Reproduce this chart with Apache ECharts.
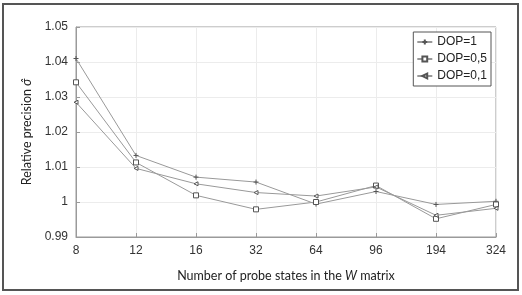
<!DOCTYPE html>
<html><head><meta charset="utf-8">
<script src="https://cdn.jsdelivr.net/npm/echarts@6/dist/echarts.min.js"></script>
<style>html,body{margin:0;padding:0;background:#fff}#c{width:522px;height:295px}</style>
</head><body><div id="c"></div>
<script>
const categories = ['8','12','16','32','64','96','194','324'];
const dop1  = [1.0410, 1.0133, 1.0071, 1.0057, 0.9994, 1.0030, 0.9993, 1.0002];
const dop05 = [1.0342, 1.0113, 1.0019, 0.9979, 1.0000, 1.0047, 0.9952, 0.9993];
const dop01 = [1.0285, 1.0096, 1.0052, 1.0027, 1.0017, 1.0043, 0.9962, 0.9982];
const seriesNames = ['DOP=1','DOP=0,5','DOP=0,1'];
const yMin = 0.99, yMax = 1.05, yStep = 0.01;

const chart = echarts.init(document.getElementById('c'));
const lineColor = '#999', markColor = '#555';
const plus = 'path://M0,5L10,5M5,0L5,10';
const tri = 'path://M0,5L10,0L10,10Z';
function mk(name, data, symbol, size) {
  return {
    name, type: 'line', data, symbol, symbolSize: size, showSymbol: true,
    lineStyle: {color: lineColor, width: 1},
    itemStyle: {color: '#fff', borderColor: markColor, borderWidth: 1},
    emphasis: {disabled: true}, animation: false
  };
}
chart.setOption({
  animation: false,
  graphic: [{type: 'rect', shape: {x: 3, y: 4, width: 515, height: 286},
    style: {fill: 'none', stroke: '#555', lineWidth: 2}}],
  grid: {left: 76, right: 26, top: 27, bottom: 58, show: true, borderColor: '#9a9a9a', borderWidth: 1},
  legend: {
    orient: 'vertical', right: 31, top: 32, itemWidth: 15, itemHeight: 6, itemGap: 5,
    backgroundColor: '#fff', borderColor: '#555', borderWidth: 1, padding: [4, 4, 4, 3],
    textStyle: {fontFamily: 'Liberation Sans', fontSize: 12, color: '#222'},
    data: seriesNames
  },
  xAxis: {
    type: 'category', data: categories, boundaryGap: false,
    axisLine: {lineStyle: {color: '#9a9a9a'}},
    axisTick: {inside: true, length: 4, lineStyle: {color: '#9a9a9a'}},
    splitLine: {show: true, lineStyle: {color: '#ececec'}},
    axisLabel: {fontFamily: 'Liberation Sans', fontSize: 12, color: '#333', margin: 8},
    name: '{n|Number of probe states in the }{i|W}{n| matrix}', nameLocation: 'middle', nameGap: 32,
    nameTextStyle: {rich: {
      n: {fontFamily: 'Lato', fontSize: 12.5, color: '#222'},
      i: {fontFamily: 'Lato', fontStyle: 'italic', fontSize: 12.5, color: '#222'}
    }}
  },
  yAxis: {
    type: 'value', min: yMin, max: yMax, interval: yStep,
    axisLine: {show: true, lineStyle: {color: '#9a9a9a'}},
    axisTick: {show: true, inside: true, length: 4, lineStyle: {color: '#9a9a9a'}},
    splitLine: {show: true, lineStyle: {color: '#ececec'}},
    axisLabel: {fontFamily: 'Liberation Sans', fontSize: 12, color: '#333', margin: 8,
      formatter: v => String(Number(v.toFixed(2)))},
    name: '{n|Relative precision }{i|σ̂}', nameLocation: 'middle', nameGap: 40, nameRotate: 90,
    nameTextStyle: {rich: {
      n: {fontFamily: 'Lato', fontSize: 12.5, color: '#222'},
      i: {fontFamily: 'Lato', fontStyle: 'italic', fontSize: 12.5, color: '#222'}
    }}
  },
  series: [
    mk(seriesNames[0], dop1, plus, 5),
    mk(seriesNames[1], dop05, 'rect', 5),
    mk(seriesNames[2], dop01, tri, 4)
  ]
});
</script></body></html>
